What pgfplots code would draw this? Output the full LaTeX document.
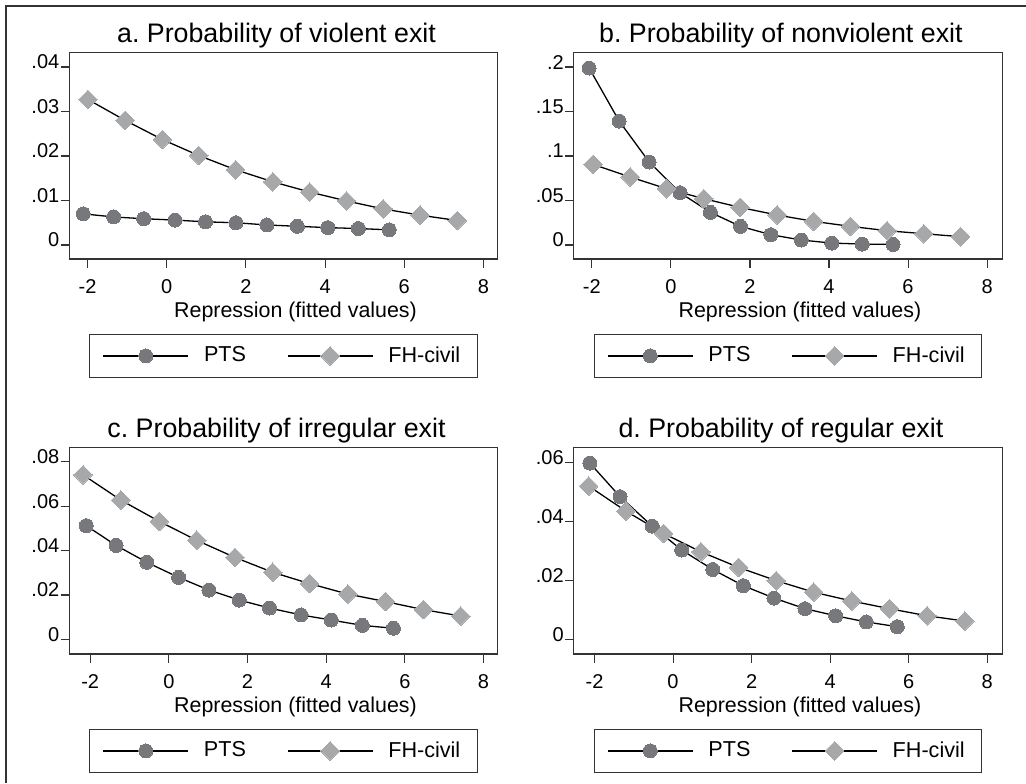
\documentclass[border=0pt]{standalone}
\usepackage{pgfplots}
\pgfplotsset{compat=1.18}
\usepackage{fontspec}
\setmainfont{Liberation Sans}
\definecolor{ptscol}{HTML}{77787B}
\definecolor{fhcol}{HTML}{A7A8AA}
\definecolor{framecol}{HTML}{333333}
\pgfplotsset{
  panel/.style={
    width=214.2pt, height=103.15pt, scale only axis,
    scaled y ticks=false, scaled x ticks=false,
    tick pos=left, tick align=outside, major tick length=4.3pt,
    axis line style={draw=framecol, line width=0.55pt},
    every tick/.style={draw=framecol, line width=0.55pt},
    xtick={-2,0,2,4,6,8}, xticklabels={-2,0,2,4,6,8},
    ticklabel style={font=\fontsize{10}{12}\selectfont},
    xticklabel style={yshift=-2.5pt},
    yticklabel style={inner xsep=0.5pt, yshift=2.5pt},
    xlabel={Repression (fitted values)},
    xlabel style={font=\fontsize{10.7}{13}\selectfont, at={(axis description cs:0.5,0)}, anchor=base, yshift=-29.35pt, xshift=6pt},
    every axis title shift=0pt,
    title style={font=\fontsize{13.4}{16}\selectfont, at={(axis description cs:0.5,1)}, anchor=base, yshift=5pt, xshift=-3.5pt},
    legend columns=2,
    legend style={draw=framecol, line width=0.55pt, at={(axis description cs:0.5,0)}, anchor=north, yshift=-37.5pt,
      font=\fontsize{10.8}{13}\selectfont, inner xsep=6.5pt, inner ysep=4pt,
      /tikz/every odd column/.append style={column sep=5.5pt},
      /tikz/every even column/.append style={column sep=18.5pt}},
    legend image code/.code={\draw[mark repeat=2,mark phase=2,#1] plot coordinates {(0pt,0pt) (21.25pt,0pt) (42.5pt,0pt)};},
  },
  pts/.style={black, line width=0.65pt, mark=*, mark size=3.5pt, mark options={draw=ptscol, fill=ptscol, line width=0pt}},
  fh/.style={black, line width=0.65pt, mark=square*, mark size=3.3pt, mark options={draw=fhcol, fill=fhcol, rotate=45, line width=0pt}},
}
\begin{document}
\begin{tikzpicture}
\path[use as bounding box] (0,0) rectangle (513pt,-391.5pt);
\draw[framecol, line width=1pt] (3pt,-391.5pt) -- (3pt,-3pt) -- (513pt,-3pt);

% panel a
\begin{axis}[panel, at={(34.65pt,-26.35pt)}, anchor=north west,
  xmin=-2.46, xmax=8.36, ymin=-0.00315, ymax=0.0432,
  ytick={0,0.01,0.02,0.03,0.04}, yticklabels={0,.01,.02,.03,.04},
  title={a.\ Probability of violent exit}]
\addplot[pts] coordinates {(-2.11,0.0070) (-1.34,0.0063) (-0.58,0.0059) (0.21,0.0056) (0.98,0.0052) (1.75,0.0050) (2.53,0.0045) (3.30,0.0042) (4.07,0.0039) (4.84,0.0037) (5.62,0.0034)};
\addlegendentry{PTS}
\addplot[fh] coordinates {(-1.99,0.0327) (-1.05,0.0280) (-0.11,0.0237) (0.81,0.0201) (1.74,0.0169) (2.68,0.0142) (3.61,0.0119) (4.54,0.0099) (5.47,0.0081) (6.40,0.0067) (7.34,0.0055)};
\addlegendentry{FH-civil}
\end{axis}

% panel b
\begin{axis}[panel, at={(286.85pt,-26.35pt)}, anchor=north west,
  xmin=-2.46, xmax=8.38, ymin=-0.0157, ymax=0.2161,
  ytick={0,0.05,0.1,0.15,0.2}, yticklabels={0,.05,.1,.15,.2},
  title={b.\ Probability of nonviolent exit}]
\addplot[pts] coordinates {(-2.07,0.1989) (-1.31,0.1393) (-0.55,0.0933) (0.23,0.0588) (1.00,0.0367) (1.76,0.0210) (2.53,0.0116) (3.30,0.0056) (4.07,0.0022) (4.84,0.0011) (5.62,0.0007)};
\addlegendentry{PTS}
\addplot[fh] coordinates {(-1.97,0.0906) (-1.03,0.0764) (-0.11,0.0633) (0.83,0.0521) (1.75,0.0423) (2.69,0.0337) (3.61,0.0266) (4.54,0.0210) (5.47,0.0161) (6.40,0.0127) (7.33,0.0094)};
\addlegendentry{FH-civil}
\end{axis}

% panel c
\begin{axis}[panel, at={(34.65pt,-223.85pt)}, anchor=north west,
  xmin=-2.53, xmax=8.36, ymin=-0.0066, ymax=0.0863,
  ytick={0,0.02,0.04,0.06,0.08}, yticklabels={0,.02,.04,.06,.08},
  title={c.\ Probability of irregular exit}]
\addplot[pts] coordinates {(-2.10,0.0512) (-1.34,0.0423) (-0.56,0.0347) (0.25,0.0279) (1.02,0.0222) (1.79,0.0177) (2.56,0.0141) (3.36,0.0110) (4.13,0.0087) (4.92,0.0063) (5.71,0.0050)};
\addlegendentry{PTS}
\addplot[fh] coordinates {(-2.18,0.0741) (-1.22,0.0627) (-0.24,0.0531) (0.71,0.0446) (1.68,0.0369) (2.64,0.0302) (3.58,0.0251) (4.55,0.0204) (5.51,0.0170) (6.47,0.0134) (7.42,0.0105)};
\addlegendentry{FH-civil}
\end{axis}

% panel d
\begin{axis}[panel, at={(286.85pt,-223.85pt)}, anchor=north west,
  xmin=-2.53, xmax=8.38, ymin=-0.00497, ymax=0.065,
  ytick={0,0.02,0.04,0.06}, yticklabels={0,.02,.04,.06},
  title={d.\ Probability of regular exit}]
\addplot[pts] coordinates {(-2.12,0.0598) (-1.35,0.0484) (-0.53,0.0384) (0.22,0.0303) (1.01,0.0237) (1.79,0.0182) (2.57,0.0140) (3.36,0.0104) (4.14,0.0080) (4.92,0.0059) (5.71,0.0043)};
\addlegendentry{PTS}
\addplot[fh] coordinates {(-2.15,0.0520) (-1.20,0.0435) (-0.24,0.0359) (0.71,0.0297) (1.67,0.0244) (2.63,0.0199) (3.58,0.0160) (4.55,0.0130) (5.51,0.0104) (6.47,0.0080) (7.43,0.0062)};
\addlegendentry{FH-civil}
\end{axis}
\end{tikzpicture}
\end{document}
